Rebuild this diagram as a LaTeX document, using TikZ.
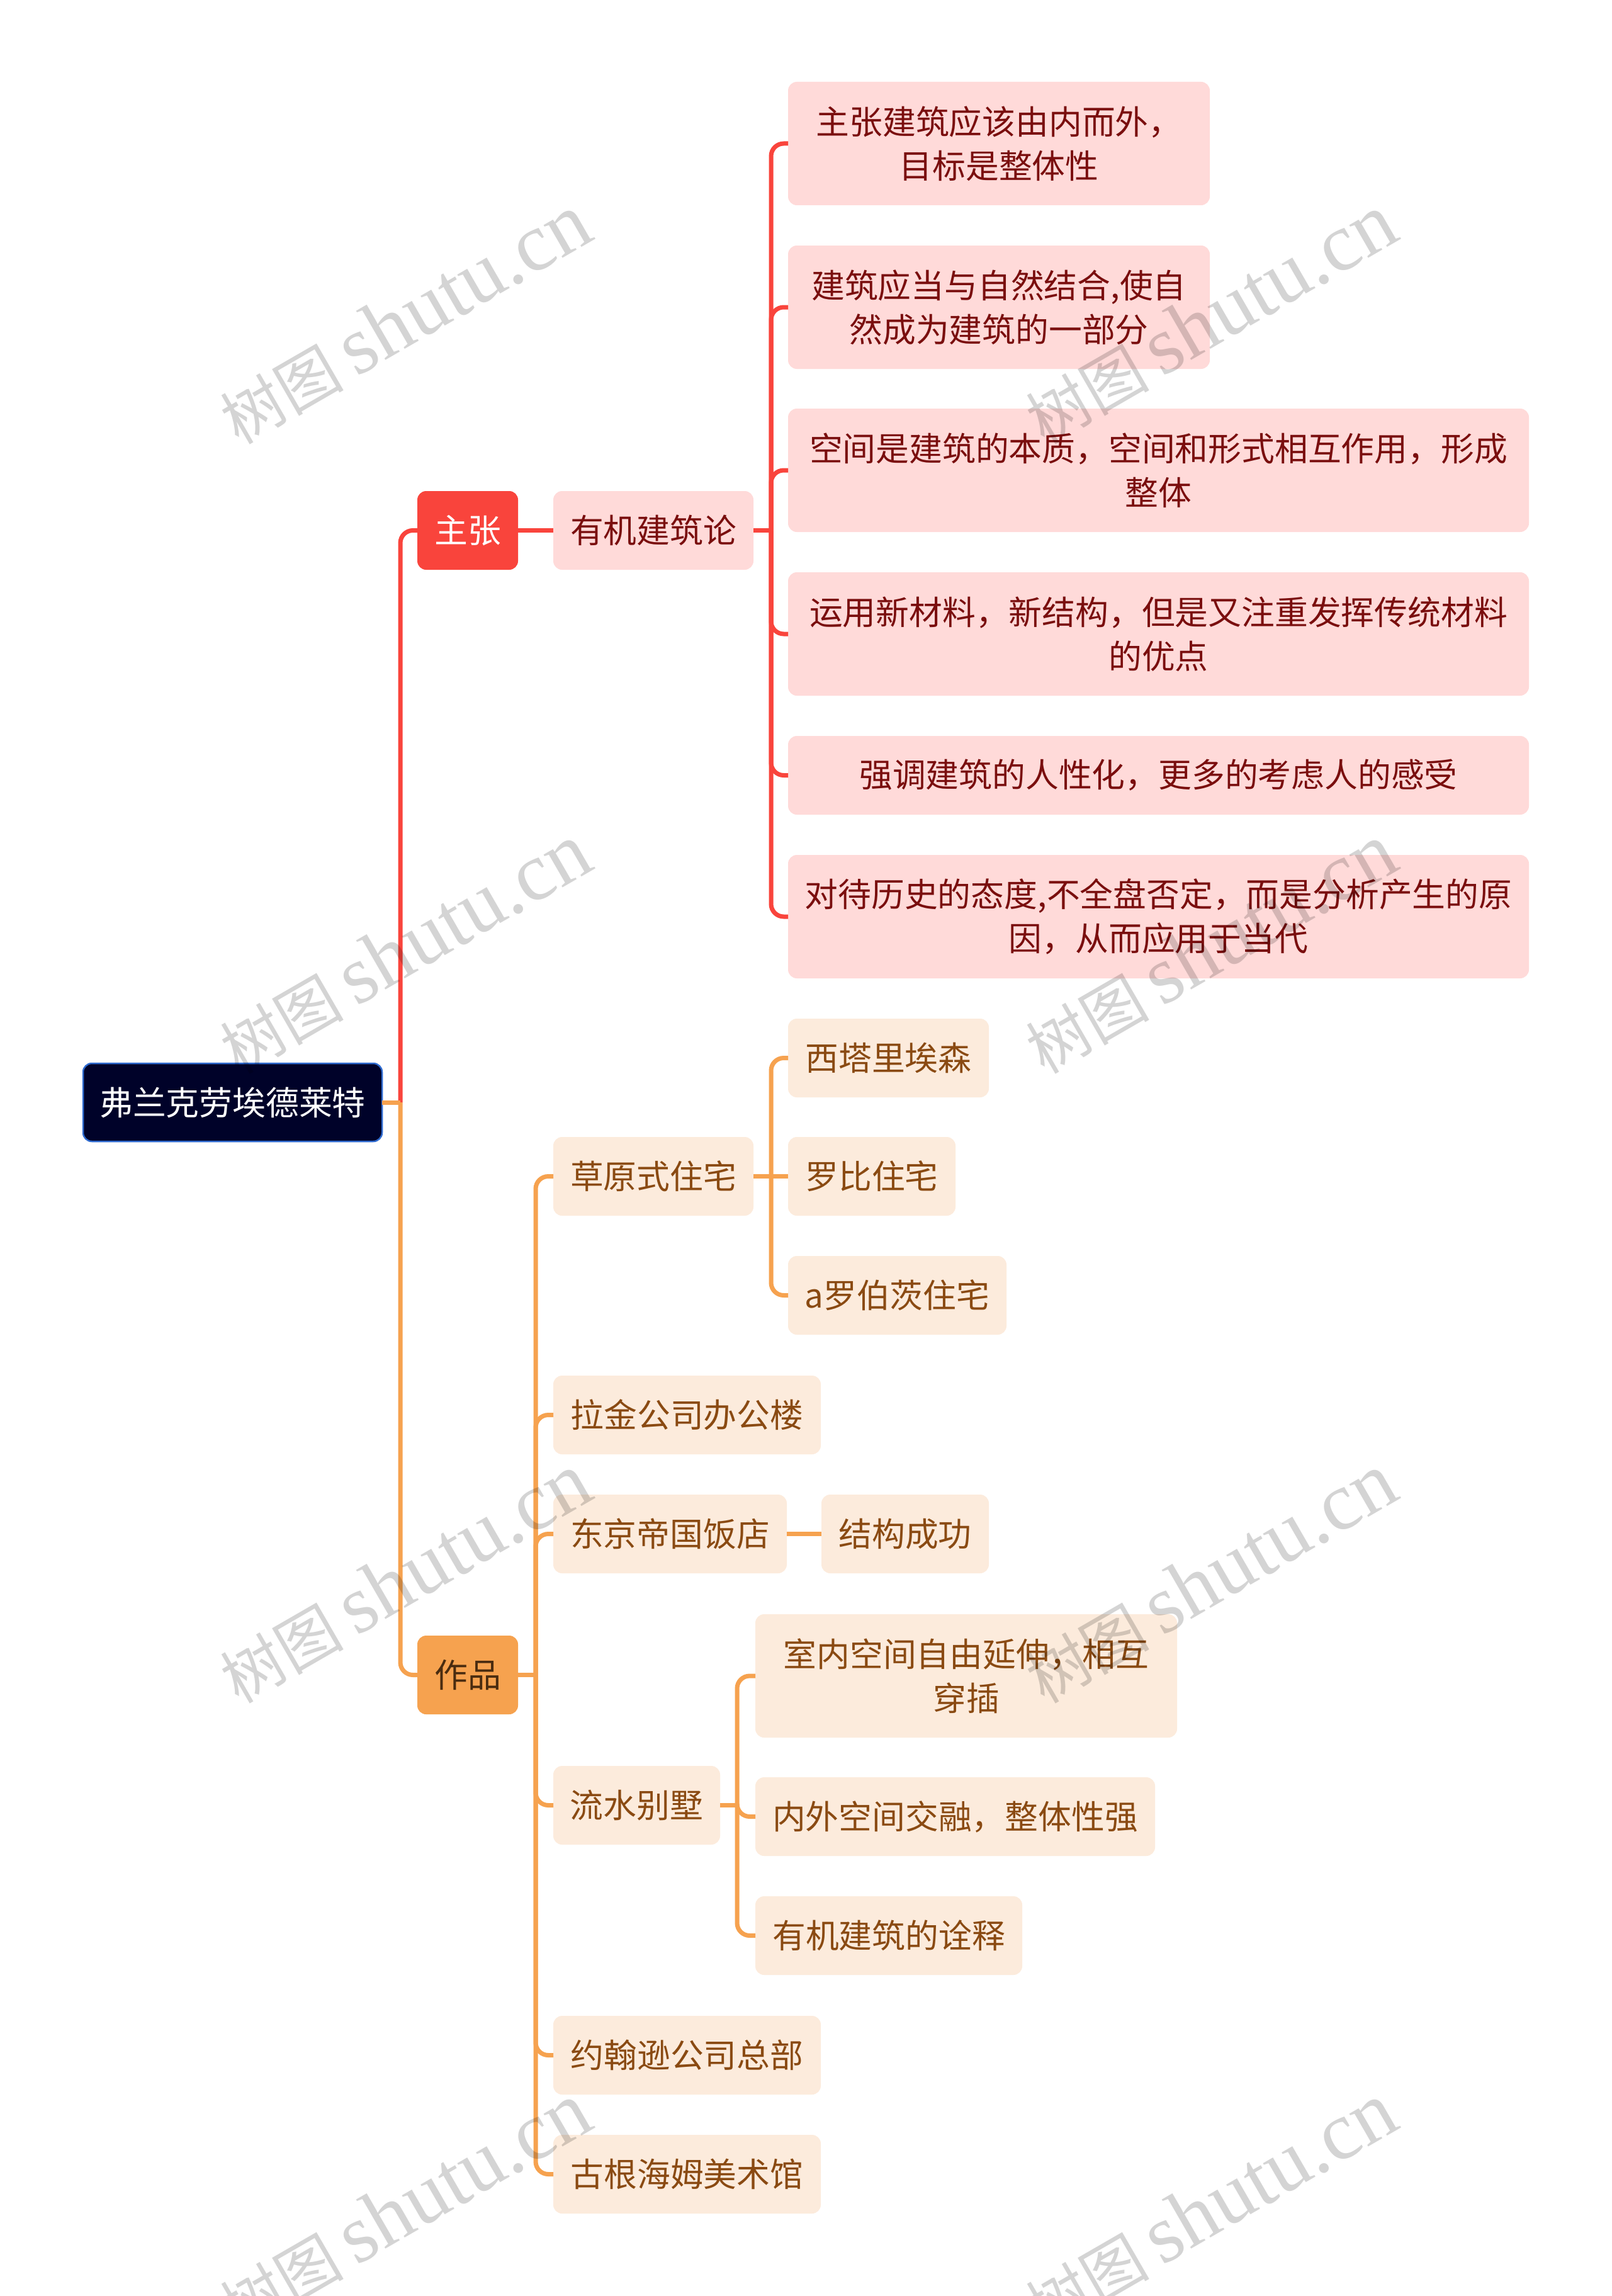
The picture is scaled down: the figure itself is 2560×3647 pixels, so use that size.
\documentclass[tikz,border=0pt]{standalone}
\usepackage{fontspec}
\setmainfont{Noto Sans CJK SC}
\newfontfamily\wmcjk{Noto Sans CJK SC}
\newfontfamily\wmlat{Liberation Serif}
\usetikzlibrary{calc}
\definecolor{redline}{HTML}{F9443C}
\definecolor{redfill}{HTML}{FFDAD9}
\definecolor{redtext}{HTML}{7A0E0E}
\definecolor{orgline}{HTML}{F6A24F}
\definecolor{orgfill}{HTML}{FCEBDC}
\definecolor{orgtext}{HTML}{8A4A12}
\definecolor{orgdark}{HTML}{4A2C10}
\definecolor{rootfill}{HTML}{000229}
\definecolor{rootedge}{HTML}{2F6BD0}
\tikzset{
  x=1pt,y=-1pt,
  base/.style={anchor=north west,inner sep=0pt,outer sep=0pt,rounded corners=14pt,align=center,
     font=\fontsize{52.8}{70}\selectfont},
  twoline/.style={execute at begin node={\rule{0pt}{51pt}}},
  rootbox/.style={base,fill=rootfill,draw=rootedge,line width=2.5pt,text=white},
  redmain/.style={base,fill=redline,text=white},
  redsub/.style={base,fill=redfill,text=redtext},
  orgmain/.style={base,fill=orgline,text=orgdark},
  orgsub/.style={base,fill=orgfill,text=orgtext},
  redconn/.style={draw=redline,line width=7pt},
  orgconn/.style={draw=orgline,line width=7pt},
  bendy/.style={rounded corners=20pt},
  wmark/.style={rotate=30,text=black,opacity=0.17}
}
\newcommand{\wmtext}{{\fontsize{98}{98}\selectfont\wmcjk 树图}\hspace{20pt}{\fontsize{131}{131}\selectfont\wmlat shutu.cn}}
\begin{document}
\begin{tikzpicture}
\useasboundingbox[fill=white] (0,0) rectangle (2560,3647);

% bus coordinates
\coordinate (busA) at (636,0);
\coordinate (busB) at (1225,0);
\coordinate (busC) at (851,0);
\coordinate (busD) at (1171,0);

% nodes
\node[rootbox,minimum width=475pt,minimum height=124pt] (root) at (132,1689) {弗兰克劳埃德莱特};
\node[redmain,minimum width=160pt,minimum height=125pt] (zz) at (663,780) {主张};
\node[redsub,minimum width=318pt,minimum height=125pt] (lun) at (879,780) {有机建筑论};
\node[redsub,twoline,minimum width=670pt,minimum height=196pt] (r1) at (1252,130) {主张建筑应该由内而外，\\目标是整体性};
\node[redsub,twoline,minimum width=670pt,minimum height=196pt] (r2) at (1252,390) {建筑应当与自然结合,使自\\然成为建筑的一部分};
\node[redsub,twoline,minimum width=1177pt,minimum height=196pt] (r3) at (1252,649) {空间是建筑的本质，空间和形式相互作用，形成\\整体};
\node[redsub,twoline,minimum width=1177pt,minimum height=196pt] (r4) at (1252,909) {运用新材料，新结构，但是又注重发挥传统材料\\的优点};
\node[redsub,minimum width=1177pt,minimum height=125pt] (r5) at (1252,1169) {强调建筑的人性化，更多的考虑人的感受};
\node[redsub,twoline,minimum width=1177pt,minimum height=196pt] (r6) at (1252,1358) {对待历史的态度,不全盘否定，而是分析产生的原\\因，从而应用于当代};

\node[orgmain,minimum width=160pt,minimum height=125pt] (zp) at (663,2598) {作品};
\node[orgsub,minimum width=318pt,minimum height=125pt] (cy) at (879,1806) {草原式住宅};
\node[orgsub,minimum width=319pt,minimum height=125pt] (o1) at (1252,1618) {西塔里埃森};
\node[orgsub,minimum width=266pt,minimum height=125pt] (o2) at (1252,1806) {罗比住宅};
\node[orgsub,minimum width=347pt,minimum height=125pt] (o3) at (1252,1995) {a罗伯茨住宅};
\node[orgsub,minimum width=425pt,minimum height=125pt] (lj) at (879,2185) {拉金公司办公楼};
\node[orgsub,minimum width=371pt,minimum height=125pt] (dj) at (879,2374) {东京帝国饭店};
\node[orgsub,minimum width=266pt,minimum height=125pt] (jg) at (1305,2374) {结构成功};
\node[orgsub,minimum width=265pt,minimum height=125pt] (ls) at (879,2805) {流水别墅};
\node[orgsub,twoline,minimum width=670pt,minimum height=196pt] (l1) at (1200,2564) {室内空间自由延伸，相互\\穿插};
\node[orgsub,minimum width=635pt,minimum height=125pt] (l2) at (1200,2823) {内外空间交融，整体性强};
\node[orgsub,minimum width=424pt,minimum height=125pt] (l3) at (1200,3012) {有机建筑的诠释};
\node[orgsub,minimum width=425pt,minimum height=125pt] (yh) at (879,3202) {约翰逊公司总部};
\node[orgsub,minimum width=425pt,minimum height=125pt] (gg) at (879,3391) {古根海姆美术馆};

% red connectors
\draw[redconn,bendy] (root.east -| busA) |- (zz.west);
\draw[redconn] (zz.east) -- (lun.west);
\draw[redconn] (lun.east) -- (lun.east -| busB);
\foreach \c in {r1,r2,r3,r4,r5,r6}
  \draw[redconn,bendy] (lun.east -| busB) |- (\c.west);

% orange connectors
\draw[orgconn] (root.east) -- (root.east -| busA);
\draw[orgconn,bendy] (root.east -| busA) |- (zp.west);
\draw[orgconn] (zp.east) -- (zp.east -| busC);
\foreach \c in {cy,lj,dj,ls,yh,gg}
  \draw[orgconn,bendy] (zp.east -| busC) |- (\c.west);
\draw[orgconn] (cy.east) -- (cy.east -| busB);
\foreach \c in {o1,o3}
  \draw[orgconn,bendy] (cy.east -| busB) |- (\c.west);
\draw[orgconn] (cy.east) -- (o2.west);
\draw[orgconn] (dj.east) -- (jg.west);
\draw[orgconn] (ls.east) -- (ls.east -| busD);
\foreach \c in {l1,l2,l3}
  \draw[orgconn,bendy] (ls.east -| busD) |- (\c.west);

% watermark
\foreach \wx in {643,1923}
  \foreach \wy in {507,1507,2507,3507}
    \node[wmark] (wm\wx\wy) at (\wx,\wy) {\wmtext};
\end{tikzpicture}
\end{document}
